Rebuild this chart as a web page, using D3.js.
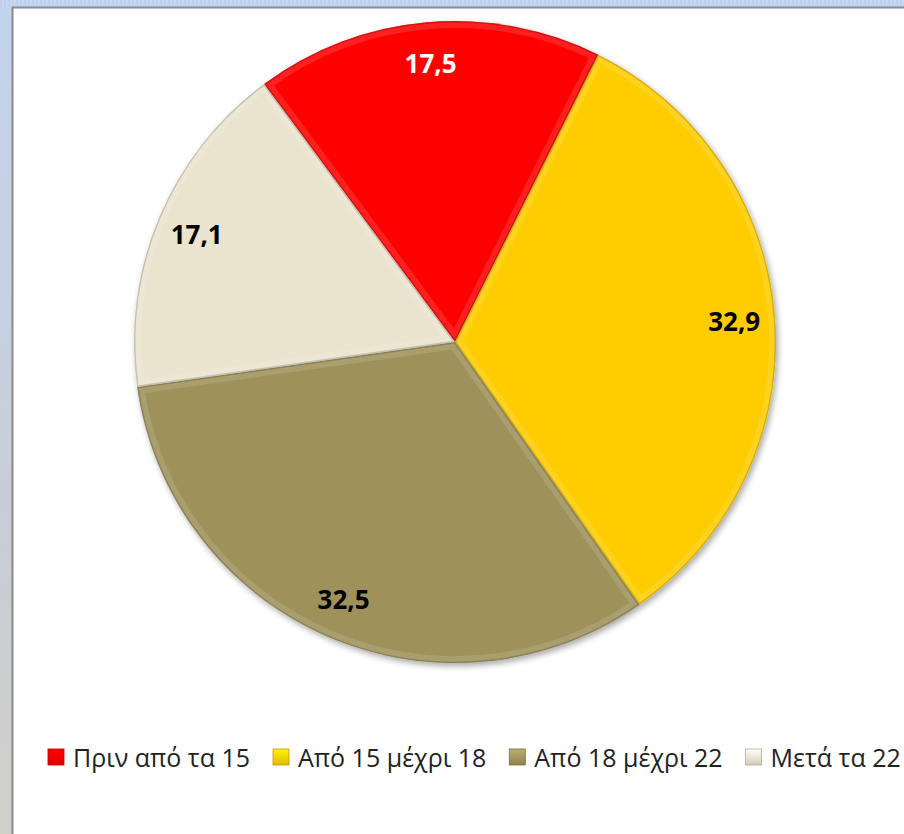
<!DOCTYPE html>
<html><head><meta charset="utf-8">
<script src="https://cdn.jsdelivr.net/npm/d3@7"></script>
<style>html,body{margin:0;padding:0;background:#fff;overflow:hidden}</style>
</head><body>
<svg id="c" width="904" height="834"></svg>
<script>
const categories = ["Πριν από τα 15", "Από 15 μέχρι 18", "Από 18 μέχρι 22", "Μετά τα 22"];
const values = [17.5, 32.9, 32.5, 17.1];
const labels = ["17,5", "32,9", "32,5", "17,1"];
const colors = ["#FE0000", "#FFCC00", "#9E925A", "#EAE4CE"];
const labelColors = ["#ffffff", "#000000", "#000000", "#000000"];

const svg = d3.select("#c");
const defs = svg.append("defs");

// window chrome: left strip and top strip
const lg = defs.append("linearGradient").attr("id","leftStrip").attr("x1",0).attr("y1",0).attr("x2",0).attr("y2",1);
lg.append("stop").attr("offset","0%").attr("stop-color","#c4d4ee");
lg.append("stop").attr("offset","60%").attr("stop-color","#c8cdd8");
lg.append("stop").attr("offset","100%").attr("stop-color","#cfd0c8");
svg.append("rect").attr("x",0).attr("y",0).attr("width",12).attr("height",834).attr("fill","url(#leftStrip)");
svg.append("rect").attr("x",0).attr("y",0).attr("width",904).attr("height",7).attr("fill","#c6d7f3");
const stripes = d3.range(0, 904, 4);
svg.append("g").selectAll("rect").data(stripes).join("rect")
  .attr("x", d => d).attr("y", 0).attr("width", 2).attr("height", 7).attr("fill", "#b5c9ea").attr("opacity", 0.6);
svg.append("rect").attr("x",12).attr("y",7).attr("width",904).attr("height",834).attr("fill","#ffffff");
svg.append("line").attr("x1",12.5).attr("y1",7).attr("x2",12.5).attr("y2",834).attr("stroke","#8a8a8a").attr("stroke-width",2);
svg.append("line").attr("x1",12).attr("y1",7.5).attr("x2",904).attr("y2",7.5).attr("stroke","#8a8a8a").attr("stroke-width",2);

// shadow filter
const f = defs.append("filter").attr("id","shadow").attr("x","-10%").attr("y","-10%").attr("width","120%").attr("height","120%");
f.append("feGaussianBlur").attr("in","SourceAlpha").attr("stdDeviation",3).attr("result","b");
f.append("feOffset").attr("in","b").attr("dx",2).attr("dy",3).attr("result","o");
f.append("feComponentTransfer").attr("in","o").attr("result","o2").append("feFuncA").attr("type","linear").attr("slope",0.35);
const fm = f.append("feMerge");
fm.append("feMergeNode").attr("in","o2");
fm.append("feMergeNode").attr("in","SourceGraphic");

const cx = 455, cy = 342, R = 321;
const startDeg = -36.5;
const pie = d3.pie().sort(null).value(d => d)
  .startAngle(startDeg * Math.PI / 180).endAngle((startDeg + 360) * Math.PI / 180);
const arcs = pie(values);
const arc = d3.arc().innerRadius(0).outerRadius(R);
const labelArc = d3.arc().innerRadius(280).outerRadius(280);

const g = svg.append("g").attr("transform", `translate(${cx},${cy})`);
const gs = g.append("g").attr("filter","url(#shadow)");

arcs.forEach((a, i) => {
  defs.append("clipPath").attr("id", "clip" + i).append("path").attr("d", arc(a));
});

gs.selectAll("path.slice").data(arcs).join("path")
  .attr("class","slice")
  .attr("d", arc)
  .attr("fill", (d, i) => colors[i]);

// bevel: lighter inner band and darker outline
const bevel = g.append("g");
arcs.forEach((a, i) => {
  const c = d3.color(colors[i]);
  bevel.append("path").attr("d", arc(a)).attr("fill","none")
    .attr("clip-path", `url(#clip${i})`)
    .attr("stroke", "#ffffff").attr("stroke-opacity",0.12).attr("stroke-width",14);
  bevel.append("path").attr("d", arc(a)).attr("fill","none")
    .attr("clip-path", `url(#clip${i})`)
    .attr("stroke", c.darker(1.2).formatHex()).attr("stroke-opacity",0.45).attr("stroke-width",3);
});

g.selectAll("text.lbl").data(arcs).join("text")
  .attr("class","lbl")
  .attr("transform", d => `translate(${labelArc.centroid(d)})`)
  .attr("text-anchor","middle").attr("dominant-baseline","central")
  .attr("font-family","'Open Sans', sans-serif").attr("font-weight","bold").attr("font-size",26)
  .attr("fill", (d, i) => labelColors[i])
  .text((d, i) => labels[i]);

// legend
const lgX = 48, lgY = 757;
const leg = svg.append("g");
let x = lgX;
categories.forEach((c, i) => {
  const col = d3.color(colors[i]);
  const gi = defs.append("linearGradient").attr("id","lg"+i).attr("x1",0).attr("y1",0).attr("x2",0).attr("y2",1);
  gi.append("stop").attr("offset","0%").attr("stop-color", col.brighter(0.5).formatHex());
  gi.append("stop").attr("offset","100%").attr("stop-color", col.darker(0.3).formatHex());
  leg.append("rect").attr("x", x).attr("y", lgY - 8).attr("width", 16).attr("height", 16)
    .attr("fill", "url(#lg"+i+")").attr("stroke", col.darker(0.8).formatHex()).attr("stroke-width",0.8);
  const t = leg.append("text").attr("x", x + 25).attr("y", lgY).attr("dominant-baseline","central")
    .attr("font-family","'Open Sans', sans-serif").attr("font-size",25).attr("fill","#222")
    .text(c);
  const w = t.node().getComputedTextLength();
  x = x + 25 + w + 23;
});
</script>
</body></html>
